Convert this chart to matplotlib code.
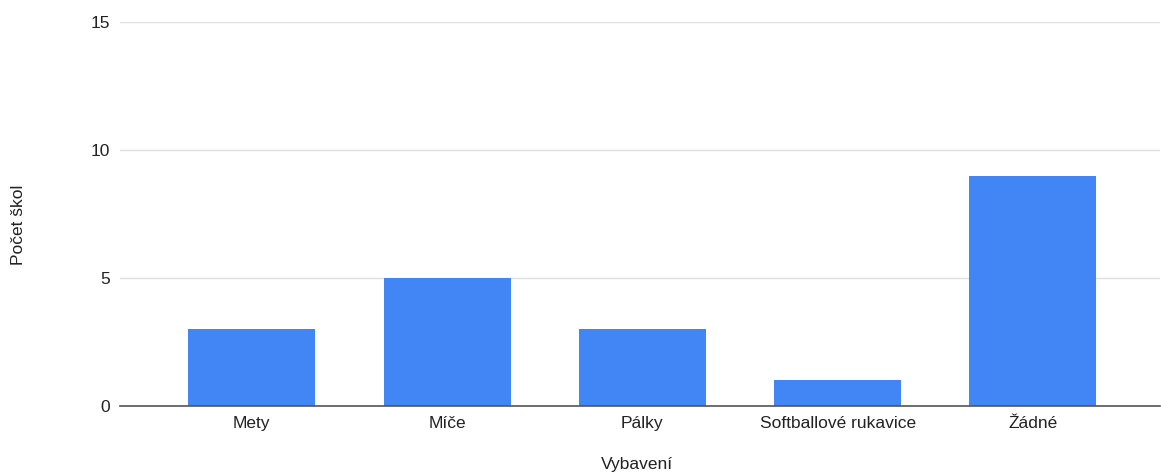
import matplotlib
matplotlib.use("Agg")
import matplotlib.pyplot as plt

plt.rcParams['font.family'] = ['Liberation Sans', 'DejaVu Sans']

# equipment owned by schools
vybaveni = ["Mety", "Míče", "Pálky", "Softballové rukavice", "Žádné"]
pocet_skol = [3, 5, 3, 1, 9]
y_ticks = [0, 5, 10, 15]

fig = plt.figure(figsize=(11.61, 4.75), dpi=100)
ax = fig.add_axes([0.1034, 0.1453, 0.8956, 0.8084])

x = range(len(vybaveni))
ax.bar(x, pocet_skol, width=0.65, color="#4285F4", zorder=3)

ax.set_xlim(-0.675, len(vybaveni) - 1 + 0.65)
ax.set_ylim(0, 15)
ax.set_yticks(y_ticks)
ax.set_xticks(list(x))
ax.set_xticklabels(vybaveni)

ax.grid(axis="y", color="#e0e0e0", linewidth=1, zorder=0)
for s in ["top", "right", "left"]:
    ax.spines[s].set_visible(False)
ax.spines["bottom"].set_color("#555555")
ax.spines["bottom"].set_linewidth(1.2)
ax.spines["bottom"].set_zorder(4)
ax.tick_params(axis="both", length=0, labelsize=12.5, colors="#222222")
ax.tick_params(axis="x", pad=7)
ax.tick_params(axis="y", pad=7)

ax.set_xlabel("Vybavení", fontsize=12.5, color="#222222")
ax.set_ylabel("Počet škol", fontsize=12.5, color="#222222")
ax.xaxis.set_label_coords(0.497, -0.133)
ax.yaxis.set_label_coords(-0.09, 0.471)

fig.savefig("out.png", dpi=100)
